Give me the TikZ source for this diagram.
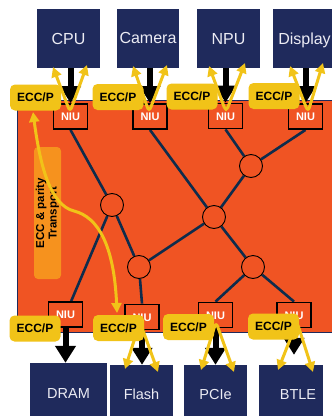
\documentclass[tikz,border=0pt]{standalone}
\usepackage{fontspec}
\setmainfont{Liberation Sans}
\usetikzlibrary{arrows.meta}
\definecolor{bgorange}{HTML}{F05423}
\definecolor{navybox}{HTML}{1F2A5C}
\definecolor{linkblue}{HTML}{0E2C4C}
\definecolor{goldy}{HTML}{F1C318}
\definecolor{labelorange}{HTML}{F6921E}
\definecolor{boxtext}{HTML}{ECECF4}
\pgfdeclarelayer{back}
\pgfdeclarelayer{links}
\pgfsetlayers{back,links,main}
\tikzset{
 unitbox/.style={fill=navybox, draw=none, inner sep=0pt, text=boxtext, font=\fontsize{16}{19}\selectfont, text height=11.5pt, text depth=0pt},
 unitboxlow/.style={unitbox, font=\fontsize{14.5}{17}\selectfont, text height=10.4pt},
 lowtext/.style={inner sep=0pt, text=boxtext, font=\fontsize{14.5}{17}\selectfont, text height=10.4pt, text depth=0pt},
 niubox/.style={fill=bgorange, draw=black, line width=1.8pt, minimum width=34pt, minimum height=25pt, inner sep=0pt, text=white, font=\bfseries\fontsize{11}{13}\selectfont, text height=8pt, text depth=0pt},
 router/.style={circle, fill=bgorange, draw=black, line width=0.9pt, minimum size=23pt, inner sep=0pt},
 link/.style={draw=linkblue, line width=2.6pt},
 eccbox/.style={fill=goldy, rounded corners=5pt, minimum width=51pt, minimum height=26pt, inner sep=0pt, font=\bfseries\fontsize{12}{14}\selectfont, text height=8.6pt, text depth=0pt},
 bigarrow/.style={draw=black, line width=6pt, -{Triangle[width=20pt,length=17pt]}},
 yarrow/.style={draw=goldy, line width=3pt, rounded corners=5pt, {Triangle[width=10pt,length=10pt]}-{Triangle[width=10pt,length=10pt]}},
 ylong/.style={draw=goldy, line width=3pt, {Triangle[width=10pt,length=10pt]}-{Triangle[width=10pt,length=10pt]}},
}
\begin{document}
\begin{tikzpicture}[x=1pt,y=-1pt]
\useasboundingbox (0,0) rectangle (332,416);
\clip (0,0) rectangle (332,416);
\begin{pgfonlayer}{back}
\fill[white] (0,0) rectangle (332,416);
\draw[fill=bgorange, draw=navybox, line width=0.8pt] (17,100) rectangle (345,332);
\node[fill=labelorange, rounded corners=4pt, minimum width=132pt, minimum height=27pt, rotate=90, inner sep=0pt, align=center, font=\bfseries\fontsize{11.5}{12.5}\selectfont] (eccnote) at (47.5,213) {ECC \& parity\\Transport};
\end{pgfonlayer}

% units
\node[unitbox, minimum width=63pt, minimum height=59pt] (cpu) at (68.5,38.5) {CPU};
\node[unitbox, minimum width=62pt, minimum height=59pt] (camera) at (148,38) {Camera};
\node[unitbox, minimum width=63pt, minimum height=59pt] (npu) at (228.5,38.5) {NPU};
\node[unitbox, minimum width=63pt, minimum height=59pt] (display) at (304.5,38.5) {Display};
\node[unitboxlow, minimum width=77pt, minimum height=61pt] (dram) at (68.5,393.5) {DRAM};
\node[unitboxlow, minimum width=63pt, minimum height=59pt] (flash) at (141.5,394.5) {Flash};
\node[unitboxlow, minimum width=63pt, minimum height=59pt] (pcie) at (215.5,394.5) {PCIe};
\node[unitboxlow, minimum width=64pt, minimum height=59pt] (btle) at (291,394.5) {};
\node[lowtext] (btlelabel) at (298,394) {BTLE};

% NIUs
\node[niubox] (cpuniu) at (70.5,116.5) {NIU};
\node[niubox] (camniu) at (150,116.5) {NIU};
\node[niubox] (npuniu) at (225.5,116) {NIU};
\node[niubox] (dispniu) at (305.5,116.5) {NIU};
\node[niubox] (dramniu) at (65.5,314.5) {NIU};
\node[niubox] (flashniu) at (142,317) {NIU};
\node[niubox] (pcieniu) at (215.5,315) {NIU};
\node[niubox] (btleniu) at (294,315) {NIU};

% routers
\node[router] (r1) at (112,205) {};
\node[router] (r2) at (139,267) {};
\node[router] (r3) at (214,217) {};
\node[router] (r4) at (251,166) {};
\node[router] (r5) at (253,267) {};

\begin{pgfonlayer}{links}
\draw[link] (cpuniu.south) -- (r1);
\draw[link] (r1) -- (r2);
\draw[link] (r1) -- (dramniu);
\draw[link] (camniu.south) -- (r3);
\draw[link] (r2) -- (r3);
\draw[link] (r3) -- (r4);
\draw[link] (npuniu.south) -- (r4);
\draw[link] (r4) -- (dispniu.south);
\draw[link] (r3) -- (r5);
\draw[link] (r5) -- (pcieniu.north);
\draw[link] (r5) -- (btleniu.north);
\draw[link] (r2) -- (flashniu.north);
\end{pgfonlayer}

% black data arrows
\draw[bigarrow] (cpuniu |- cpu.south) -- (cpuniu.north);
\draw[bigarrow] (camniu |- camera.south) -- (camniu.north);
\draw[bigarrow] (npuniu |- npu.south) -- (npuniu.north);
\draw[bigarrow] (dispniu |- display.south) -- (dispniu.north);
\draw[bigarrow] (dramniu.south) -- (dramniu |- dram.north);
\draw[bigarrow] (flashniu.south) -- (flashniu |- flash.north);
\draw[bigarrow] (pcieniu.south) -- (pcieniu |- pcie.north);
\draw[bigarrow, shorten >=10pt] (btleniu.south) -- (btleniu |- btle.north);

% ECC/P tags
\node[eccbox] (cpuecc) at (35.5,97.5) {ECC/P};
\node[eccbox] (camecc) at (118,97) {ECC/P};
\node[eccbox] (npuecc) at (192,96.5) {ECC/P};
\node[eccbox] (dispecc) at (274,96) {ECC/P};
\node[eccbox] (dramecc) at (35,328.5) {ECC/P};
\node[eccbox] (flashecc) at (118.5,328) {ECC/P};
\node[eccbox] (pcieecc) at (188.5,327) {ECC/P};
\node[eccbox] (btleecc) at (273.5,326.5) {ECC/P};

% yellow ECC arrows
\coordinate (cpuyl) at (53,67);  \coordinate (cpuyb) at (70,112);  \coordinate (cpuyr) at (87,65);
\coordinate (camyl) at (133,66); \coordinate (camyb) at (149,112); \coordinate (camyr) at (167,65);
\coordinate (npuyl) at (209,66); \coordinate (npuyb) at (226,112); \coordinate (npuyr) at (245,63);
\coordinate (dispyl) at (290,66); \coordinate (dispyb) at (308,112); \coordinate (dispyr) at (323,63);
\coordinate (flashyl) at (125,369); \coordinate (flashyt) at (140,322); \coordinate (flashyr) at (158,372);
\coordinate (pcieyl) at (201,370); \coordinate (pcieyt) at (216,322); \coordinate (pcieyr) at (234,372);
\coordinate (btleyl) at (278,370); \coordinate (btleyt) at (297,322); \coordinate (btleyr) at (313,372);
\draw[yarrow] (cpuyl) -- (cpuyb) -- (cpuyr);
\draw[yarrow] (camyl) -- (camyb) -- (camyr);
\draw[yarrow] (npuyl) -- (npuyb) -- (npuyr);
\draw[yarrow] (dispyl) -- (dispyb) -- (dispyr);
\draw[yarrow] (flashyl) -- (flashyt) -- (flashyr);
\draw[yarrow] (pcieyl) -- (pcieyt) -- (pcieyr);
\draw[yarrow] (btleyl) -- (btleyt) -- (btleyr);

% long transport curve
\coordinate (ttop) at (33,112);
\coordinate (tmid) at (74,211);
\coordinate (tbot) at (117,313);
\draw[ylong] (ttop) .. controls (40,165) and (50,205) .. (tmid) .. controls (98,217) and (114,245) .. (tbot);
\end{tikzpicture}
\end{document}
